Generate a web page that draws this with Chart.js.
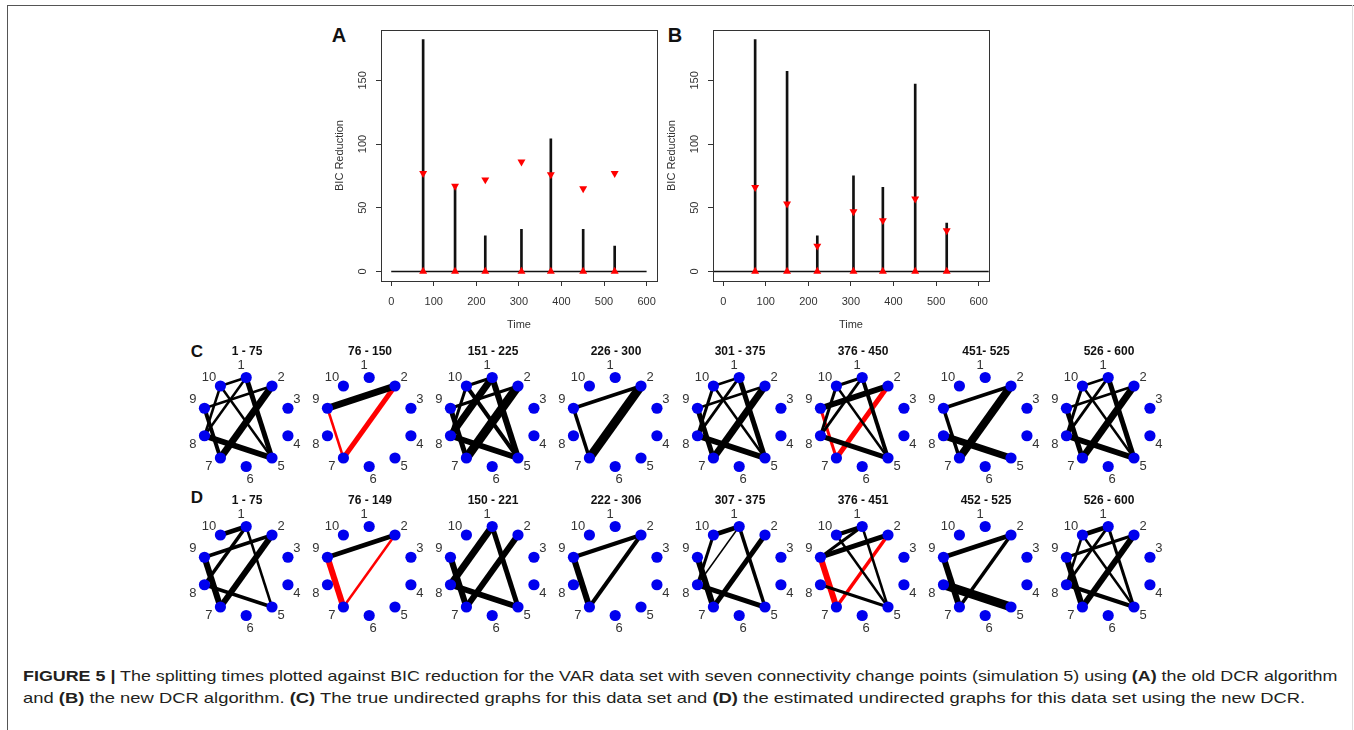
<!DOCTYPE html>
<html>
<head>
<meta charset="utf-8">
<script src="https://cdn.jsdelivr.net/npm/chart.js@4.4.1/dist/chart.umd.min.js"></script>
<style>
  body { margin: 0; background: #fff; width: 1354px; height: 730px; position: relative; overflow: hidden;
         font-family: 'Liberation Sans', Arial, sans-serif; }
  canvas { position: absolute; }
  .line { position: absolute; }
  .letter { position: absolute; font-weight: bold; line-height: 1; color: #111; transform: translate(-50%, -50%); }
  .cap { position: absolute; left: 23px; white-space: nowrap; font-family: 'Liberation Sans Narrow', 'Liberation Sans', Arial, sans-serif;
         font-size: 15px; line-height: 1; color: #231f20; transform-origin: 0 0; }
  .cap b { font-weight: bold; }
</style>
</head>
<body>
<div class="line" style="left:7px;top:5px;width:1347px;border-top:1.5px solid #555"></div>
<div class="line" style="left:7px;top:5px;height:725px;border-left:1.5px solid #555"></div>
<div class="line" style="left:1352px;top:5px;height:725px;border-left:1px solid #ddd"></div>

<div class="letter" style="left:339px;top:35px;font-size:20px">A</div>
<div class="letter" style="left:675px;top:35px;font-size:20px">B</div>
<div class="letter" style="left:197px;top:351px;font-size:17px">C</div>
<div class="letter" style="left:197px;top:497px;font-size:17px">D</div>

<div class="cap" id="cap1" style="top:668px"><b>FIGURE 5 |</b> The splitting times plotted against BIC reduction for the VAR data set with seven connectivity change points (simulation 5) using <b>(A)</b> the old DCR algorithm</div>
<div class="cap" id="cap2" style="top:690px">and <b>(B)</b> the new DCR algorithm. <b>(C)</b> The true undirected graphs for this data set and <b>(D)</b> the estimated undirected graphs for this data set using the new DCR.</div>

<script>
// ---- data: panels A and B ----
const timeTicks = [0, 100, 200, 300, 400, 500, 600];
const bicTicks = [0, 50, 100, 150];
const changeTimes = [75, 150, 221, 306, 375, 451, 525];
const bicOld = [182, 67, 28, 33, 104, 33, 20];
const thresholdOld = [77, 67, 72, 86, 76, 65, 77];
const bicNew = [182, 157, 28, 75, 66, 147, 38];
const thresholdNew = [66, 53, 20, 47, 40, 57, 32];
const zeroSpanA = [0, 600];
const zeroSpanB = [-24, 624];

// ---- data: panels C and D (edge = [node, node, weight, red?]) ----
const nodeIds = [1, 2, 3, 4, 5, 6, 7, 8, 9, 10];
const titlesC = ["1 - 75", "76 - 150", "151 - 225", "226 - 300", "301 - 375", "376 - 450", "451- 525", "526 - 600"];
const titlesD = ["1 - 75", "76 - 149", "150 - 221", "222 - 306", "307 - 375", "376 - 451", "452 - 525", "526 - 600"];
const edgesC = [
  [[1,10,2.5],[1,8,2.5],[10,5,2.5],[1,5,5],[9,2,2.5],[2,7,7],[9,7,4],[8,5,6],[10,8,2.5]],
  [[9,2,7],[9,7,2.5,1],[2,7,5,1]],
  [[1,10,3],[1,8,7],[10,5,4],[1,5,6],[9,2,3],[2,7,9],[9,7,5],[8,5,6],[10,8,3]],
  [[9,2,3.5],[9,7,3.5],[2,7,9]],
  [[1,10,2.5],[1,8,3],[10,5,2.5],[1,5,5],[9,2,2.5],[2,7,7],[9,7,5],[8,5,6],[10,8,3]],
  [[1,10,3],[1,8,3],[10,5,2.5],[1,5,4],[9,2,6],[8,5,5],[10,8,3],[9,7,3,1],[2,7,5,1]],
  [[9,2,3.5],[9,7,3.5],[2,7,8],[8,5,7]],
  [[1,10,2.5],[1,8,3],[10,5,2.5],[1,5,5],[9,2,2.5],[2,7,7],[9,7,5],[8,5,6],[10,8,3]]
];
const edgesD = [
  [[1,10,4.5],[1,8,3.5],[1,5,2.5],[9,2,3.5],[2,7,6],[9,7,6],[8,5,3.5]],
  [[9,2,4.5],[9,7,6,1],[2,7,2.5,1]],
  [[1,8,7],[9,7,6],[1,5,5],[2,7,6],[8,5,6]],
  [[9,2,4],[9,7,6],[2,7,4]],
  [[1,10,4.5],[1,8,1.5],[10,8,3],[1,5,3.5],[2,7,5],[9,7,6],[8,5,5]],
  [[1,10,4],[1,9,3],[10,5,2.5],[1,5,2.5],[9,2,5],[8,5,3],[9,7,6,1],[2,7,3.5,1]],
  [[9,2,4.5],[2,7,3.5],[9,7,6],[8,5,9]],
  [[1,10,4.5],[1,8,3],[10,5,2.5],[1,5,3],[9,2,3],[2,7,6],[9,7,6],[8,5,4],[10,8,2.5]]
];

const FONT = "'Liberation Sans', Arial, sans-serif";
Chart.defaults.animation = false;
Chart.defaults.font.family = FONT;
Chart.defaults.color = '#333';

function makeCanvas(left, top, w, h) {
  const c = document.createElement('canvas');
  c.width = w; c.height = h;
  c.style.left = left + 'px'; c.style.top = top + 'px';
  c.style.width = w + 'px'; c.style.height = h + 'px';
  document.body.appendChild(c);
  return c;
}

// box round the plot area, like R's bty="o"
const boxPlugin = {
  id: 'box',
  afterDraw(chart) {
    const a = chart.chartArea, ctx = chart.ctx;
    ctx.save();
    ctx.strokeStyle = '#333';
    ctx.lineWidth = 1;
    ctx.strokeRect(Math.round(a.left) + 0.5, Math.round(a.top) + 0.5, Math.round(a.right - a.left), Math.round(a.bottom - a.top));
    ctx.restore();
  }
};

function stickChart(left, padRight, sticks, thresholds, zeroSpan) {
  const canvas = makeCanvas(left, 0, 345, 340);
  new Chart(canvas, {
    type: 'scatter',
    data: {
      datasets: [
        {
          data: changeTimes.map((t, i) => ({ x: t, y: thresholds[i] })),
          pointStyle: 'triangle', rotation: 180, pointRadius: 4.6,
          backgroundColor: '#f00', borderColor: '#f00', borderWidth: 0
        },
        {
          data: changeTimes.map(t => ({ x: t, y: 0 })),
          pointStyle: 'triangle', pointRadius: 4.6,
          backgroundColor: '#f00', borderColor: '#f00', borderWidth: 0
        },
        {
          type: 'bar',
          data: changeTimes.map((t, i) => ({ x: t, y: sticks[i] })),
          barThickness: 2, backgroundColor: '#111'
        },
        {
          data: zeroSpan.map(x => ({ x: x, y: 0 })),
          showLine: true, borderColor: '#111', borderWidth: 1.5, pointRadius: 0
        }
      ]
    },
    options: {
      responsive: false,
      events: [],
      layout: { padding: { top: 30, right: padRight, left: 0, bottom: 0 } },
      plugins: { legend: { display: false }, tooltip: { enabled: false } },
      scales: {
        x: {
          type: 'linear', min: -24, max: 624, offset: false,
          afterBuildTicks: s => { s.ticks = timeTicks.map(v => ({ value: v })); },
          afterFit: s => { s.height = 59; },
          grid: { offset: false, drawOnChartArea: false, drawTicks: true, tickLength: 5, color: '#333' },
          border: { display: true, color: '#333' },
          ticks: { maxRotation: 0, padding: 9, font: { size: 11 }, color: '#333' },
          title: { display: true, text: 'Time', font: { size: 11 }, color: '#333', padding: { top: 0, bottom: 8.4 } }
        },
        y: {
          min: -7.5, max: 189.5,
          afterBuildTicks: s => { s.ticks = bicTicks.map(v => ({ value: v })); },
          afterFit: s => { s.width = 61; },
          grid: { drawOnChartArea: false, drawTicks: true, tickLength: 5, color: '#333' },
          border: { display: true, color: '#333' },
          ticks: { minRotation: 90, maxRotation: 90, crossAlign: 'center', padding: 4, font: { size: 11 }, color: '#333' },
          title: { display: true, text: 'BIC Reduction', font: { size: 11 }, color: '#333', padding: { top: 13.4, bottom: 0 } }
        }
      }
    },
    plugins: [boxPlugin]
  });
}

stickChart(320, 6, bicOld, thresholdOld, zeroSpanA);
stickChart(652, 5, bicNew, thresholdNew, zeroSpanB);

// ---- graphs: nodes on a regular decagon, node 1 at the top, clockwise ----
function nodeXY(k) {
  const a = (90 - 36 * (k - 1)) * Math.PI / 180;
  return { x: Math.cos(a), y: Math.sin(a) };
}

const nodeLabels = {
  id: 'nodeLabels',
  afterDatasetsDraw(chart) {
    const ctx = chart.ctx, xs = chart.scales.x, ys = chart.scales.y;
    ctx.save();
    ctx.font = '13px ' + FONT;
    ctx.fillStyle = '#333';
    ctx.textAlign = 'center';
    ctx.textBaseline = 'middle';
    nodeIds.forEach(k => {
      const p = nodeXY(k);
      let dx, dy;
      if (Math.abs(p.x) < 0.1) {
        dx = p.y > 0 ? -5 : 4;
        dy = p.y > 0 ? -12 : 12.5;
      } else {
        dx = p.x > 0 ? 9 : -11.5;
        dy = p.y > 0 ? -9 : 8.5;
      }
      ctx.fillText(String(k), xs.getPixelForValue(p.x) + dx, ys.getPixelForValue(p.y) + dy);
    });
    ctx.restore();
  }
};

const RADIUS_PX = 44.5;
const HALF = 58;
const lim = HALF / RADIUS_PX;

function graphChart(cx, cy, title, edges) {
  const canvas = makeCanvas(Math.round(cx - 72), Math.round(cy - 82), 134, 152);
  const datasets = [{
    data: nodeIds.map(nodeXY),
    pointRadius: 5.6, backgroundColor: '#0000ee', borderWidth: 0
  }];
  edges.forEach(e => {
    datasets.push({
      data: [nodeXY(e[0]), nodeXY(e[1])],
      showLine: true, pointRadius: 0,
      borderWidth: e[2], borderColor: e[3] ? '#f00' : '#000',
      borderCapStyle: 'butt'
    });
  });
  new Chart(canvas, {
    type: 'scatter',
    data: { datasets },
    options: {
      responsive: false,
      events: [],
      clip: false,
      layout: { padding: { left: 14, right: 4, top: 0, bottom: 12 } },
      plugins: {
        legend: { display: false },
        tooltip: { enabled: false },
        title: { display: true, text: title, color: '#111', font: { size: 12, weight: 'bold' }, padding: { top: 4, bottom: 5.6 } }
      },
      scales: {
        x: { display: false, min: -lim, max: lim },
        y: { display: false, min: -lim, max: lim }
      }
    },
    plugins: [nodeLabels]
  });
}

const colStart = 246.7, colStep = 123.2;
titlesC.forEach((t, i) => graphChart(colStart + colStep * i, 422.2, t, edgesC[i]));
titlesD.forEach((t, i) => graphChart(colStart + colStep * i, 571.2, t, edgesD[i]));

// caption: stretch each line to the width it has in the figure
[['cap1', 1314], ['cap2', 1282]].forEach(([id, w]) => {
  const el = document.getElementById(id);
  el.style.transform = 'scaleX(' + (w / el.offsetWidth) + ')';
});
</script>
</body>
</html>
